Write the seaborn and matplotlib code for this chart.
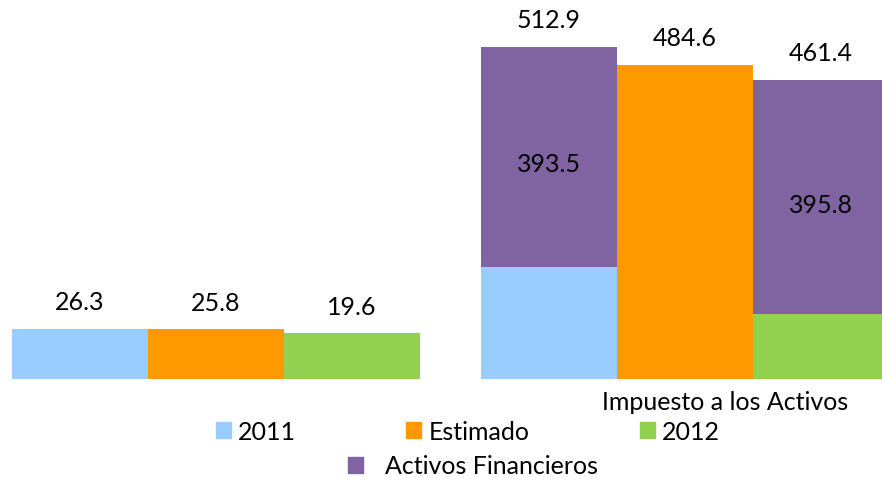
import numpy as np
import pandas as pd
import matplotlib
matplotlib.use('Agg')
import matplotlib.pyplot as plt
from matplotlib.patches import Patch
import seaborn as sns

# data
series = ['2011', 'Estimado', '2012']
left_vals = [26.3, 25.8, 19.6]
right_totals = [512.9, 484.6, 461.4]
right_base = [173, None, 100]          # unlabeled lower segments, estimated
activos_labels = ['393.5', None, '395.8']
category = 'Impuesto a los Activos'
left_floor = -51                        # left group axis starts below zero

colors = {'2011': '#99CCFF', 'Estimado': '#FF9900', '2012': '#92D050'}
purple = '#8064A2'

sns.set_style('white')
plt.rcParams['font.family'] = ['Lato', 'DejaVu Sans']
plt.rcParams['font.size'] = 18
plt.rcParams['text.color'] = 'black'

fig = plt.figure(figsize=(8.82, 4.81), dpi=100)
y0, h = 101 / 481, 380 / 481
ymax = 586.4
ax_l = fig.add_axes([12 / 882, y0, 408 / 882, h])
ax_r = fig.add_axes([481 / 882, y0, 408 / 882, h])

# left group
df_l = pd.DataFrame({'serie': series, 'h': np.array(left_vals) - left_floor})
sns.barplot(data=df_l, x='serie', y='h', hue='serie', palette=colors, order=series,
            width=1, dodge=False, legend=False, ax=ax_l, linewidth=0, saturation=1)
for i, v in enumerate(left_vals):
    ax_l.annotate(f'{v}', (i, v - left_floor), xytext=(0, 19.5), textcoords='offset points',
                  ha='center', va='center')

# right group: totals (purple on top), then lower segments
top_colors = {'2011': purple, 'Estimado': colors['Estimado'], '2012': purple}
df_r = pd.DataFrame({'serie': series, 'total': right_totals})
sns.barplot(data=df_r, x='serie', y='total', hue='serie', palette=top_colors, order=series,
            width=1, dodge=False, legend=False, ax=ax_r, linewidth=0, saturation=1)
df_b = pd.DataFrame({'serie': series, 'base': right_base}).dropna()
sns.barplot(data=df_b, x='serie', y='base', hue='serie', palette=colors, order=series,
            width=1, dodge=False, legend=False, ax=ax_r, linewidth=0, saturation=1)
for i, v in enumerate(right_totals):
    ax_r.annotate(f'{v}', (i, v), xytext=(0, 19.5), textcoords='offset points',
                  ha='center', va='center')
    if activos_labels[i]:
        ax_r.annotate(activos_labels[i], (i, (right_base[i] + v) / 2), xytext=(0, -5),
                      textcoords='offset points', ha='center', va='center')

for ax in (ax_l, ax_r):
    ax.set_xlim(-0.5, 2.5)
    ax.axis('off')
ax_l.set_ylim(0, ymax)
ax_r.set_ylim(0, ymax)

fig.text(725 / 882, 1 - 403 / 481, category, ha='center', va='center')

handles = [Patch(color=colors[s], label=s) for s in series]
fig.legend(handles=handles, ncol=3, loc='center', bbox_to_anchor=(468 / 882, 1 - 432 / 481),
           frameon=False, handlelength=0.6, handleheight=0.6, handletextpad=0.3,
           columnspacing=4.4, borderpad=0)
fig.legend(handles=[Patch(color=purple, label='Activos Financieros')], loc='center',
           bbox_to_anchor=(473 / 882, 1 - 467 / 481), frameon=False, handlelength=0.6,
           handleheight=0.6, handletextpad=0.85, borderpad=0)

fig.savefig('out.png', dpi=100)
